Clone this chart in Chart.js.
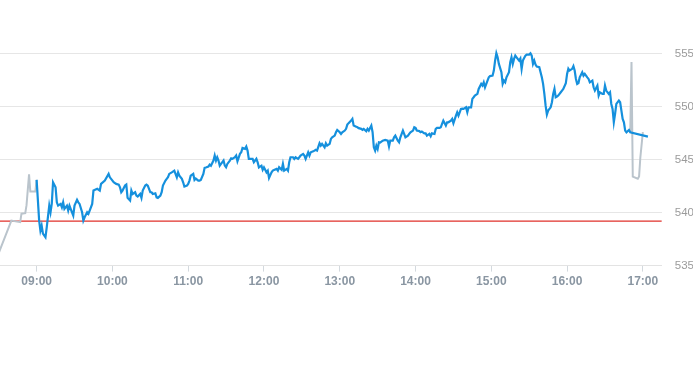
<!DOCTYPE html>
<html>
<head>
<meta charset="utf-8">
<script src="https://cdn.jsdelivr.net/npm/chart.js@4.4.0/dist/chart.umd.min.js"></script>
<style>
  html, body { margin: 0; padding: 0; background: #fff; overflow: hidden; }
  #wrap { width: 707px; height: 304px; }
</style>
</head>
<body>
<div id="wrap"><canvas id="chart"></canvas></div>
<script>
// axis + reference values
const axisStart = '08:31';
const axisEnd = '17:15';
const hourTicks = ['09:00', '10:00', '11:00', '12:00', '13:00', '14:00', '15:00', '16:00', '17:00'];
const prevClose = 539.2;

// pre-market (grey)
const preTimes = ['08:30', '08:40', '08:47', '08:48', '08:51', '08:52', '08:54', '08:55', '08:59', '09:00'];
const preValues = [536.2, 539.25, 539.1, 539.9, 539.95, 540.7, 543.6, 542.0, 542.0, 543.1];

// trading session (blue)
const sessionTimes = [
  '09:00','09:02','09:03','09:04','09:05','09:07','09:08','09:10','09:11','09:12','09:13','09:15','09:16','09:17','09:19','09:20',
  '09:21','09:22','09:24','09:25','09:26','09:28','09:29','09:30','09:32','09:33','09:34','09:36','09:37','09:38','09:40','09:41',
  '09:42','09:44','09:45','09:48','09:50','09:51','09:54','09:57','09:58','10:01','10:03','10:05','10:06','10:07','10:08','10:10',
  '10:11','10:12','10:14','10:15','10:16','10:18','10:19','10:20','10:22','10:23','10:24','10:26','10:27','10:28','10:30','10:31',
  '10:32','10:34','10:35','10:36','10:38','10:39','10:40','10:42','10:43','10:44','10:45','10:47','10:49','10:51','10:52','10:53',
  '10:55','10:56','10:57','10:59','11:00','11:01','11:02','11:04','11:05','11:06','11:08','11:09','11:10','11:12','11:13','11:14',
  '11:16','11:17','11:18','11:20','11:21','11:22','11:23','11:24','11:25','11:26','11:28','11:29','11:30','11:31','11:33','11:34',
  '11:35','11:37','11:38','11:39','11:41','11:42','11:43','11:45','11:46','11:47','11:48','11:50','11:51','11:52','11:54','11:55',
  '11:56','11:58','11:59','12:00','12:02','12:03','12:04','12:06','12:07','12:08','12:10','12:11','12:12','12:14','12:15','12:16',
  '12:18','12:19','12:20','12:21','12:23','12:24','12:25','12:27','12:28','12:29','12:31','12:32','12:33','12:35','12:36','12:37',
  '12:39','12:40','12:41','12:42','12:44','12:45','12:46','12:48','12:49','12:50','12:52','12:53','12:54','12:56','12:57','12:58',
  '13:00','13:01','13:02','13:04','13:05','13:06','13:07','13:09','13:10','13:11','13:13','13:14','13:15','13:17','13:18','13:19',
  '13:21','13:22','13:23','13:25','13:26','13:27','13:28','13:29','13:30','13:31','13:32','13:34','13:36','13:38','13:39','13:40',
  '13:42','13:43','13:44','13:46','13:47','13:48','13:50','13:51','13:52','13:54','13:55','13:56','13:58','13:59','14:00','14:01',
  '14:03','14:04','14:05','14:07','14:08','14:09','14:11','14:12','14:13','14:15','14:16','14:17','14:19','14:20','14:21','14:22',
  '14:24','14:25','14:26','14:28','14:29','14:30','14:32','14:33','14:34','14:36','14:37','14:38','14:40','14:41','14:42','14:44',
  '14:45','14:46','14:47','14:49','14:50','14:52','14:53','14:54','14:55','14:57','14:58','14:59','15:01','15:02','15:03','15:04',
  '15:05','15:06','15:08','15:09','15:10','15:11','15:12','15:14','15:15','15:16','15:17','15:18','15:19','15:20','15:22','15:23',
  '15:24','15:25','15:26','15:27','15:28','15:30','15:31','15:32','15:33','15:34','15:35','15:36','15:38','15:39','15:40','15:41',
  '15:42','15:43','15:44','15:45','15:47','15:48','15:49','15:50','15:51','15:52','15:53','15:55','15:56','15:57','15:59','16:00',
  '16:01','16:02','16:04','16:05','16:06','16:07','16:08','16:09','16:10','16:12','16:13','16:14','16:16','16:17','16:18','16:20',
  '16:21','16:22','16:24','16:25','16:26','16:28','16:29','16:30','16:31','16:33','16:34','16:35','16:36','16:37','16:38','16:39',
  '16:41','16:42','16:43','16:44','16:45','16:46','16:47','16:49','16:50','17:04'
];
const sessionValues = [
  543.09,539.25,538.30,538.77,538.02,537.67,538.61,540.66,540.03,540.85,542.86,542.39,540.97,540.66,540.82,540.50,
  540.97,540.35,540.66,540.19,540.66,540.03,539.72,540.66,541.20,540.97,540.82,540.03,539.25,539.56,540.03,539.88,
  540.19,540.82,542.08,542.24,542.08,542.71,543.02,543.65,543.33,542.86,542.71,542.64,542.39,541.92,542.08,542.55,
  542.64,541.39,541.13,542.08,541.76,541.92,541.60,541.51,541.76,541.39,542.08,542.55,542.64,542.55,541.92,541.92,
  541.76,541.82,541.44,541.39,541.60,541.92,542.55,543.02,543.18,543.33,543.65,543.80,543.96,543.33,543.80,543.49,
  543.18,542.86,542.45,542.55,542.71,543.02,543.49,543.65,543.08,543.21,543.02,543.02,543.08,543.65,544.22,544.25,
  544.34,544.53,544.43,544.91,545.38,544.91,545.22,544.91,544.43,544.59,544.91,544.43,544.27,544.59,544.91,545.12,
  545.07,545.22,545.38,544.84,545.54,545.69,546.10,546.01,546.23,545.85,545.07,545.07,545.07,544.75,545.07,544.75,
  544.27,544.43,544.03,544.27,543.80,543.96,543.27,543.80,543.96,544.03,544.12,543.96,544.27,544.03,544.59,543.96,
  544.12,543.96,544.75,545.22,545.22,545.07,545.22,545.07,545.22,545.38,545.54,545.38,545.07,545.69,545.38,545.69,
  545.78,545.85,545.92,545.85,546.54,546.32,546.48,546.16,546.54,546.32,546.48,546.95,547.10,547.26,547.58,547.80,
  547.58,547.42,547.58,547.74,547.90,548.30,548.44,548.68,548.84,548.21,548.11,548.05,547.97,547.90,547.80,547.90,
  547.67,547.90,547.74,548.21,547.58,546.16,545.85,546.32,546.01,546.63,546.60,546.79,546.86,546.79,546.23,546.79,
  546.79,547.10,547.26,546.79,546.63,547.10,547.74,547.42,547.10,547.26,547.42,547.58,547.74,548.05,547.99,547.74,
  547.69,547.58,547.64,547.48,547.48,547.26,547.42,547.20,547.48,547.42,547.90,547.99,547.99,548.05,548.37,548.68,
  548.21,548.52,548.52,548.68,548.84,548.42,549.15,549.46,549.15,549.78,549.81,549.78,549.93,549.46,549.93,549.93,
  550.73,550.88,551.04,551.20,551.67,552.14,551.98,552.29,551.82,552.45,552.76,552.88,552.92,553.40,554.34,555.03,
  554.65,554.03,553.24,552.14,552.45,552.29,552.76,553.24,554.18,554.65,554.03,554.50,554.81,554.65,554.34,554.53,
  553.56,554.34,554.59,554.81,554.91,554.91,555.03,554.81,554.03,554.34,553.96,553.77,553.71,553.24,552.76,552.14,
  551.20,550.09,549.25,549.62,549.93,550.41,551.20,551.67,550.88,550.94,551.04,551.35,551.51,551.67,552.20,553.08,
  553.58,553.40,553.56,553.82,553.40,552.61,552.14,552.22,552.76,553.24,552.92,553.08,552.76,552.61,552.29,552.45,
  551.82,551.51,551.98,551.04,551.35,551.20,551.20,551.98,551.51,551.20,551.35,550.25,549.78,548.52,549.31,550.25,
  550.57,550.41,549.62,548.84,548.52,547.74,547.58,547.80,547.58,547.17
];

// post-session (grey)
const postTimes = ['16:50', '16:51', '16:52', '16:56', '16:57', '16:58', '17:00'];
const postValues = [547.6, 554.2, 543.4, 543.2, 543.4, 545.2, 547.6];

const toMin = t => { const [h, m] = t.split(':').map(Number); return h * 60 + m; };
const fmt = v => String(Math.floor(v / 60)).padStart(2, '0') + ':' + String(v % 60).padStart(2, '0');
const pts = (times, vals) => times.map((t, i) => ({ x: toMin(t), y: vals[i] }));

const lineStyle = (data, color, width) => ({
  data, borderColor: color, borderWidth: width, pointRadius: 0, tension: 0, fill: false
});

new Chart(document.getElementById('chart'), {
  type: 'line',
  data: {
    datasets: [
      lineStyle(pts(sessionTimes, sessionValues), '#1590dd', 2.2),
      lineStyle(pts(preTimes, preValues), '#bac4cc', 2),
      lineStyle(pts(postTimes, postValues), '#bac4cc', 2),
      lineStyle([{ x: toMin(axisStart), y: prevClose }, { x: toMin(axisEnd), y: prevClose }], '#e0302a', 1.2)
    ]
  },
  options: {
    responsive: true,
    maintainAspectRatio: false,
    animation: false,
    layout: { padding: { top: 43, bottom: 12, left: 0, right: 0 } },
    plugins: { legend: { display: false }, tooltip: { enabled: false } },
    scales: {
      x: {
        type: 'linear',
        min: toMin(axisStart),
        max: toMin(axisEnd),
        afterBuildTicks: s => { s.ticks = hourTicks.map(t => ({ value: toMin(t) })); },
        ticks: {
          callback: v => fmt(v),
          color: '#8a96a2',
          font: { family: 'Liberation Sans, Arial, sans-serif', size: 12, weight: 'bold' },
          maxRotation: 0,
          padding: 3
        },
        grid: { drawOnChartArea: false, tickLength: 6, color: '#d3d9de' },
        border: { display: true, color: '#e3e3e3' }
      },
      y: {
        position: 'right',
        min: 535,
        max: 556,
        ticks: {
          stepSize: 5,
          includeBounds: false,
          padding: 13,
          color: '#9b9b9b',
          font: { family: 'Liberation Sans, Arial, sans-serif', size: 11.5 }
        },
        grid: { color: '#e6e6e6', drawTicks: false },
        border: { display: false }
      }
    }
  }
});
</script>
</body>
</html>
